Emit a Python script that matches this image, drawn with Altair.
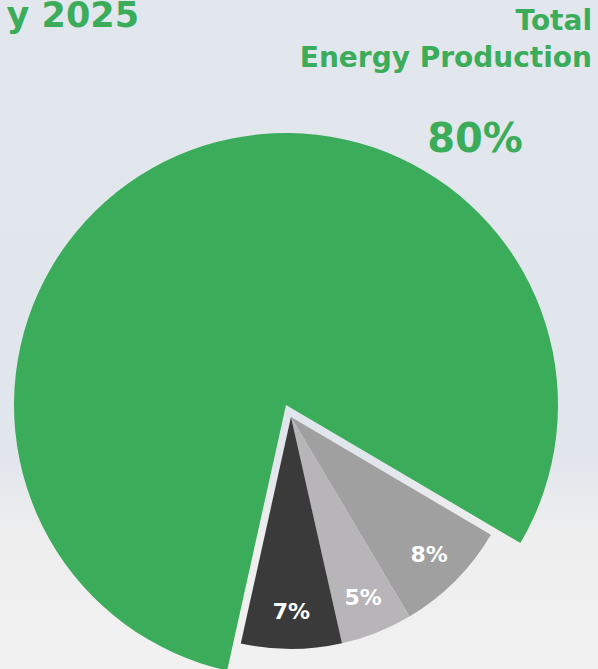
import altair as alt
import pandas as pd
import math

# ---- data ----
categories = ["Source A", "Source B", "Source C", "Main source"]
values = [8, 5, 7, 80]
labels = ["8%", "5%", "7%", "80%"]
group = ["gray", "gray", "gray", "green"]
colors = ["#a0a0a0", "#b7b5b7", "#3a3a3a", "#3bac5a"]
order = [1, 2, 3, 4]

df = pd.DataFrame({
    "category": categories,
    "value": values,
    "label": labels,
    "group": group,
    "ord": order,
})

W, H = 598, 669
FONT = "DejaVu Sans"
start = math.radians(120.5)
theta_scale = alt.Scale(range=[start, start + 2 * math.pi])
color_scale = alt.Scale(domain=categories, range=colors)

GREEN = "#3bac5a"
green_c = (286, 405)
gray_c = (291, 417)

# decorative page background (soft blue-grey fading into white at the bottom)
bg = alt.Chart(pd.DataFrame({"k": [0]})).mark_rect(
    color=alt.Gradient(
        gradient="linear",
        stops=[
            alt.GradientStop(offset=0.0, color="#e2e6ed"),
            alt.GradientStop(offset=0.68, color="#e1e5ec"),
            alt.GradientStop(offset=0.80, color="#eeeeef"),
            alt.GradientStop(offset=1.0, color="#f1f1f1"),
        ],
        x1=0, x2=0, y1=0, y2=1,
    )
).encode(x=alt.value(0), x2=alt.value(W), y=alt.value(0), y2=alt.value(H))

base = alt.Chart(df)

theta = alt.Theta("value:Q", stack=True, scale=theta_scale)
ordr = alt.Order("ord:Q")

green_layer = base.mark_arc(radius=272).encode(
    theta=theta,
    order=ordr,
    color=alt.Color("category:N", scale=color_scale, legend=None),
    fillOpacity=alt.condition(alt.datum.group == "green", alt.value(1), alt.value(0)),
    x=alt.value(green_c[0]),
    y=alt.value(green_c[1]),
)

gray_layer = base.mark_arc(radius=232).encode(
    theta=theta,
    order=ordr,
    color=alt.Color("category:N", scale=color_scale, legend=None),
    fillOpacity=alt.condition(alt.datum.group == "gray", alt.value(1), alt.value(0)),
    x=alt.value(gray_c[0]),
    y=alt.value(gray_c[1]),
)

gray_text = base.mark_text(
    radius=195, font=FONT, fontWeight="bold", fontSize=22, color="white",
    align="center", baseline="middle",
).encode(
    theta=theta,
    order=ordr,
    text="label:N",
    opacity=alt.condition(alt.datum.group == "gray", alt.value(1), alt.value(0)),
    x=alt.value(gray_c[0]),
    y=alt.value(gray_c[1]),
)

ann = pd.DataFrame({"t": ["80%"]})
big_label = alt.Chart(ann).mark_text(
    font=FONT, fontWeight="bold", fontSize=40, color=GREEN,
    align="center", baseline="alphabetic",
).encode(text="t:N", x=alt.value(475), y=alt.value(152))

title_l = alt.Chart(pd.DataFrame({"t": ["y 2025"]})).mark_text(
    font=FONT, fontWeight="bold", fontSize=35, color=GREEN,
    align="right", baseline="alphabetic",
).encode(text="t:N", x=alt.value(139), y=alt.value(27))

title_r1 = alt.Chart(pd.DataFrame({"t": ["Total"]})).mark_text(
    font=FONT, fontWeight="bold", fontSize=28, color=GREEN,
    align="right", baseline="alphabetic",
).encode(text="t:N", x=alt.value(592), y=alt.value(30))

title_r2 = alt.Chart(pd.DataFrame({"t": ["Energy Production"]})).mark_text(
    font=FONT, fontWeight="bold", fontSize=28, color=GREEN,
    align="right", baseline="alphabetic",
).encode(text="t:N", x=alt.value(592), y=alt.value(67))

chart = alt.layer(
    bg, green_layer, gray_layer, gray_text, big_label, title_l, title_r1, title_r2
).properties(
    width=W, height=H,
    autosize=alt.AutoSizeParams(type="none"),
    padding=0,
    background="#e2e6ed",
).configure_view(stroke=None)

chart.save("out.html", embed_options={"renderer": "svg", "actions": False})
